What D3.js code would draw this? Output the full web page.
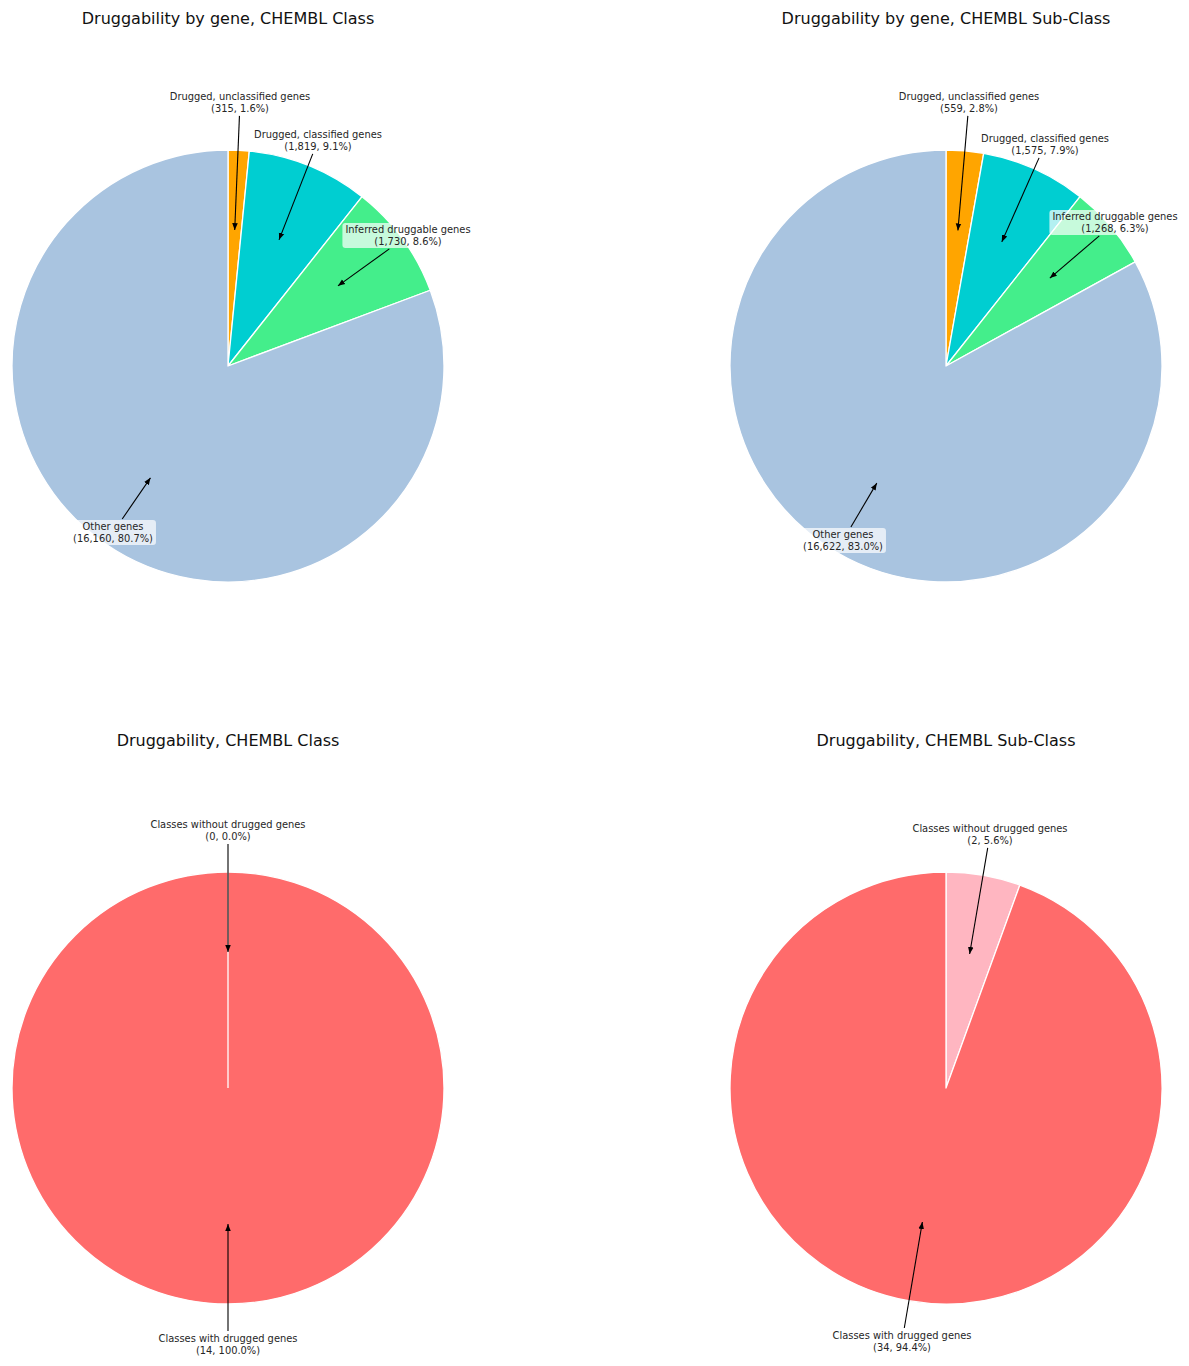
<!DOCTYPE html>
<html>
<head>
<meta charset="utf-8">
<script src="https://cdn.jsdelivr.net/npm/d3@7"></script>
<style>
  body { margin: 0; background: #fff; }
  svg { font-family: "DejaVu Sans", sans-serif; }
  .title { font-size: 16px; fill: #111; text-anchor: middle; }
  .annot { font-size: 9.9px; fill: #262626; text-anchor: middle; }
</style>
</head>
<body>
<div id="chart"></div>
<script>
// ---- data ----
var titles = [
  "Druggability by gene, CHEMBL Class",
  "Druggability by gene, CHEMBL Sub-Class",
  "Druggability, CHEMBL Class",
  "Druggability, CHEMBL Sub-Class"
]

var geneLabels = ["Drugged, unclassified genes", "Drugged, classified genes", "Inferred druggable genes", "Other genes"]
var geneColors = ["#ffa500", "#00ced1", "#44ee8b", "#a9c4e0"]
var geneClassValues = [315, 1819, 1730, 16160]
var geneSubClassValues = [559, 1575, 1268, 16622]

var classLabels = ["Classes without drugged genes", "Classes with drugged genes"]
var classColors = ["#ffb6c1", "#ff6b6b"]
var classValues = [0, 14]
var subClassValues = [2, 34]

// which labels get the translucent box
var geneBoxed = [false, false, true, true]
var classBoxed = [false, false]

// ---- layout (label offsets from pie centre, px) ----
var W = 1189, H = 1366, R = 216
var panels = [
  {cx: 228, cy: 366, ty: 19, values: geneClassValues, labels: geneLabels, colors: geneColors, boxed: geneBoxed,
   offs: [[12, -264], [90, -226], [180, -131], [-115, 166]]},
  {cx: 946, cy: 366, ty: 19, values: geneSubClassValues, labels: geneLabels, colors: geneColors, boxed: geneBoxed,
   offs: [[23, -264], [99, -222], [169, -144], [-103, 174]]},
  {cx: 228, cy: 1088, ty: 741, values: classValues, labels: classLabels, colors: classColors, boxed: classBoxed,
   offs: [[0, -258], [0, 256]]},
  {cx: 946, cy: 1088, ty: 741, values: subClassValues, labels: classLabels, colors: classColors, boxed: classBoxed,
   offs: [[44, -254], [-44, 253]]}
]

var svg = d3.select("#chart").append("svg")
  .attr("width", W).attr("height", H)

svg.append("defs").append("marker")
  .attr("id", "arrow")
  .attr("viewBox", "0 0 10 10")
  .attr("refX", 10).attr("refY", 5)
  .attr("markerWidth", 7).attr("markerHeight", 7)
  .attr("markerUnits", "userSpaceOnUse")
  .attr("orient", "auto")
  .append("path")
  .attr("d", "M0,1 L10,5 L0,9 Z")
  .style("fill", "#000")

var fmt = d3.format(",")

function drawPanel(p, i){
  var g = svg.append("g").attr("transform", "translate(" + p.cx + "," + p.cy + ")")

  svg.append("text")
    .attr("class", "title")
    .attr("x", p.cx)
    .attr("y", p.ty + 5)
    .text(titles[i])

  var total = d3.sum(p.values)
  var pie = d3.pie().sort(null).value(function(d){ return d })
  var arcs = pie(p.values)
  var arc = d3.arc().innerRadius(0).outerRadius(R)

  g.selectAll("path.slice")
    .data(arcs)
    .enter().append("path")
    .attr("class", "slice")
    .attr("d", arc)
    .style("fill", function(d, j){ return p.colors[j] })
    .style("stroke", "#fff")
    .style("stroke-width", 1.3)
    .style("stroke-linejoin", "round")

  // zero-size wedge still shows its white edge
  arcs.forEach(function(d){
    if(d.value == 0){
      g.append("line")
        .attr("x1", 0).attr("y1", 0)
        .attr("x2", R * Math.sin(d.startAngle))
        .attr("y2", -R * Math.cos(d.startAngle))
        .style("stroke", "#fff").style("stroke-width", 1.3)
    }
  })

  // annotations
  arcs.forEach(function(d, j){
    var mid = (d.startAngle + d.endAngle) / 2,
        tx = 0.63 * R * Math.sin(mid),
        ty = -0.63 * R * Math.cos(mid),
        lx = p.offs[j][0],
        ly = p.offs[j][1]

    var lab = g.append("g")
    var t = lab.append("text").attr("class", "annot").attr("x", lx).attr("y", ly - 2)
    t.append("tspan").attr("x", lx).attr("dy", 0).text(p.labels[j])
    t.append("tspan").attr("x", lx).attr("dy", "1.2em")
      .text("(" + fmt(d.value) + ", " + (d.value / total * 100).toFixed(1) + "%)")

    var bb = t.node().getBBox()
    if(p.boxed[j]){
      lab.insert("rect", "text")
        .attr("x", bb.x - 3).attr("y", bb.y - 1)
        .attr("width", bb.width + 6).attr("height", bb.height + 2)
        .attr("rx", 3)
        .style("fill", "#fff").style("fill-opacity", 0.7)
    }

    // start of arrow where the line leaves the text box
    var cxB = bb.x + bb.width / 2, cyB = bb.y + bb.height / 2,
        dx = tx - cxB, dy = ty - cyB,
        hw = bb.width / 2 + 2, hh = bb.height / 2 + 2,
        s = Math.min(dx == 0 ? Infinity : hw / Math.abs(dx), dy == 0 ? Infinity : hh / Math.abs(dy))

    g.append("line")
      .attr("x1", cxB + dx * s).attr("y1", cyB + dy * s)
      .attr("x2", tx).attr("y2", ty)
      .style("stroke", "#000").style("stroke-width", 1.1)
      .attr("marker-end", "url(#arrow)")
  })
}

panels.forEach(drawPanel)
</script>
</body>
</html>
